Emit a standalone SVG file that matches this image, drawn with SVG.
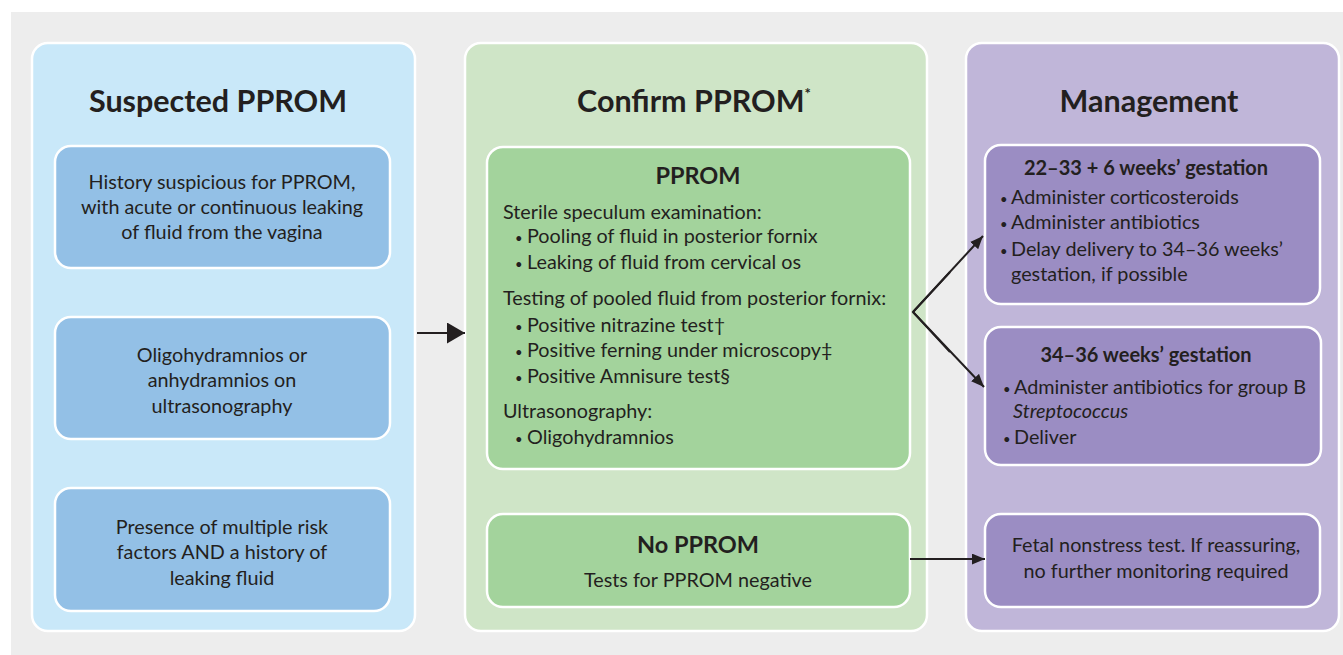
<svg xmlns="http://www.w3.org/2000/svg" width="1343" height="655" viewBox="0 0 1343 655">
<defs>
<style>
text{font-family:Lato,"Liberation Sans",sans-serif;fill:#231f20;}
.t{font-size:30.5px;font-weight:bold;text-anchor:middle;}
.b{font-size:19.8px;}
.c{text-anchor:middle;}
.d{font-size:13px;}
.h{font-size:23.5px;font-weight:bold;text-anchor:middle;}
.h2{font-size:20px;font-weight:bold;text-anchor:middle;}
.panel{stroke:#fff;stroke-width:2.5;}
.box{stroke:#fff;stroke-width:2.5;}
.ln{stroke:#231f20;stroke-width:2;fill:none;}
</style>
<marker id="ah" viewBox="0 0 12 10" refX="12" refY="5" markerWidth="13" markerHeight="11" markerUnits="userSpaceOnUse" orient="auto">
<path d="M0,0 L12,5 L0,10 Z" fill="#231f20"/>
</marker>
<marker id="ahb" viewBox="0 0 18 21" refX="18" refY="10.5" markerWidth="18" markerHeight="21" markerUnits="userSpaceOnUse" orient="auto">
<path d="M0,0 L18,10.5 L0,21 Z" fill="#231f20"/>
</marker>
</defs>
<rect x="11" y="12" width="1332" height="643" fill="#ededed"/>

<g id="panel-suspected">
<rect class="panel" x="32" y="43" width="383" height="588" rx="16" fill="#c9e8f9"/>
<text class="t" x="218" y="112">Suspected PPROM</text>
</g>
<g id="node-history">
<rect class="box" x="55" y="146" width="335" height="122" rx="16" fill="#93c0e6"/>
<text class="b c" x="222" y="189">History suspicious for PPROM,</text>
<text class="b c" x="222" y="214">with acute or continuous leaking</text>
<text class="b c" x="222" y="239">of fluid from the vagina</text>
</g>
<g id="node-oligo">
<rect class="box" x="55" y="317" width="335" height="122" rx="16" fill="#93c0e6"/>
<text class="b c" x="222" y="362">Oligohydramnios or</text>
<text class="b c" x="222" y="387">anhydramnios on</text>
<text class="b c" x="222" y="413">ultrasonography</text>
</g>
<g id="node-risk">
<rect class="box" x="55" y="488" width="335" height="123" rx="16" fill="#93c0e6"/>
<text class="b c" x="222" y="534">Presence of multiple risk</text>
<text class="b c" x="222" y="559">factors AND a history of</text>
<text class="b c" x="222" y="585">leaking fluid</text>
</g>

<g id="panel-confirm">
<rect class="panel" x="465" y="43" width="462" height="588" rx="16" fill="#cfe5c7"/>
<text class="t" x="694" y="112">Confirm PPROM<tspan font-size="15" dy="-13">*</tspan></text>
</g>
<g id="node-pprom">
<rect class="box" x="487" y="147" width="423" height="322" rx="16" fill="#a3d39c"/>
<text class="h" x="698" y="184">PPROM</text>
<text class="b" x="503" y="219">Sterile speculum examination:</text>
<text class="b" x="515" y="243"><tspan class="d">•</tspan><tspan x="527">Pooling of fluid in posterior fornix</tspan></text>
<text class="b" x="515" y="269"><tspan class="d">•</tspan><tspan x="527">Leaking of fluid from cervical os</tspan></text>
<text class="b" x="503" y="305">Testing of pooled fluid from posterior fornix:</text>
<text class="b" x="515" y="332"><tspan class="d">•</tspan><tspan x="527">Positive nitrazine test†</tspan></text>
<text class="b" x="515" y="357"><tspan class="d">•</tspan><tspan x="527">Positive ferning under microscopy‡</tspan></text>
<text class="b" x="515" y="383"><tspan class="d">•</tspan><tspan x="527">Positive Amnisure test§</tspan></text>
<text class="b" x="503" y="418">Ultrasonography:</text>
<text class="b" x="515" y="444"><tspan class="d">•</tspan><tspan x="527">Oligohydramnios</tspan></text>
</g>
<g id="node-no-pprom">
<rect class="box" x="487" y="514" width="423" height="93" rx="16" fill="#a3d39c"/>
<text class="h" x="698" y="553">No PPROM</text>
<text class="b c" x="698" y="587">Tests for PPROM negative</text>
</g>

<g id="panel-management">
<rect class="panel" x="966" y="43" width="373" height="588" rx="16" fill="#c0b6d9"/>
<text class="t" x="1149" y="112">Management</text>
</g>
<g id="node-22-33">
<rect class="box" x="985" y="145" width="335" height="159" rx="16" fill="#9b8dc3"/>
<text class="h2" x="1146" y="175">22–33 + 6 weeks’ gestation</text>
<text class="b" x="1000" y="204"><tspan class="d">•</tspan><tspan x="1011">Administer corticosteroids</tspan></text>
<text class="b" x="1000" y="229"><tspan class="d">•</tspan><tspan x="1011">Administer antibiotics</tspan></text>
<text class="b" x="1000" y="256"><tspan class="d">•</tspan><tspan x="1011">Delay delivery to 34–36 weeks’</tspan></text>
<text class="b" x="1011" y="281">gestation, if possible</text>
</g>
<g id="node-34-36">
<rect class="box" x="985" y="327" width="336" height="138" rx="16" fill="#9b8dc3"/>
<text class="h2" x="1146" y="362">34–36 weeks’ gestation</text>
<text class="b" x="1003" y="394"><tspan class="d">•</tspan><tspan x="1014">Administer antibiotics for group B</tspan></text>
<text class="b" x="1013" y="418" font-style="italic">Streptococcus</text>
<text class="b" x="1003" y="444"><tspan class="d">•</tspan><tspan x="1014">Deliver</tspan></text>
</g>
<g id="node-fetal">
<rect class="box" x="985" y="514" width="335" height="93" rx="16" fill="#9b8dc3"/>
<text class="b c" x="1156" y="552">Fetal nonstress test. If reassuring,</text>
<text class="b c" x="1156" y="578">no further monitoring required</text>
</g>

<g id="connectors">
<line class="ln" x1="417" y1="333" x2="465" y2="333" stroke-width="2.5" marker-end="url(#ahb)"/>
<polyline class="ln" points="950,272 913,312 950,352"/>
<line class="ln" x1="913" y1="312" x2="983" y2="236" marker-end="url(#ah)"/>
<line class="ln" x1="913" y1="312" x2="984" y2="387" marker-end="url(#ah)"/>
<line class="ln" x1="910" y1="559" x2="985" y2="559" marker-end="url(#ah)"/>
</g>
</svg>
